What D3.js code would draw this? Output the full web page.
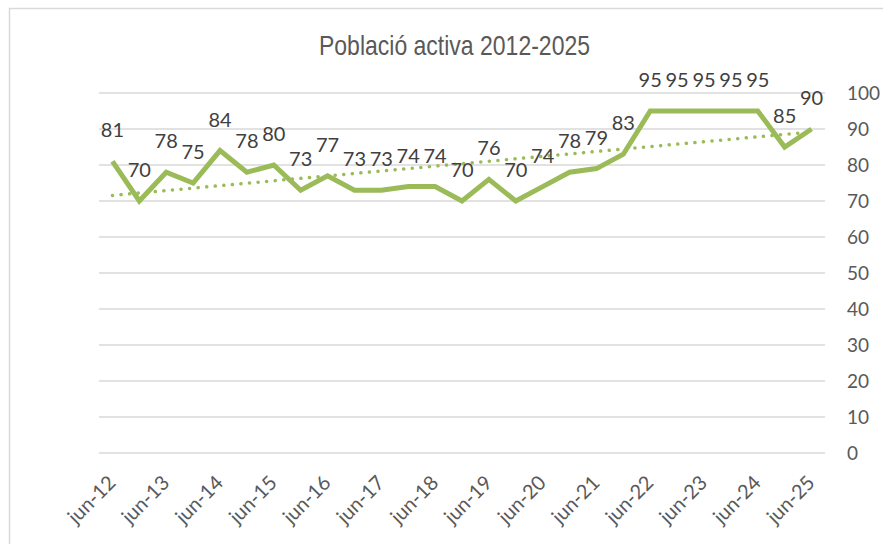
<!DOCTYPE html>
<html lang="ca">
<head>
<meta charset="utf-8">
<title>Població activa 2012-2025</title>
<script src="https://cdnjs.cloudflare.com/ajax/libs/d3/7.8.5/d3.min.js"></script>
<style>
  body { margin: 0; background: #fff; }
  svg { display: block; }
</style>
</head>
<body>
<div id="chart"></div>
<script>
// one point every half year, jun-12 .. jun-25
var periods = ["jun-12", "des-12", "jun-13", "des-13", "jun-14", "des-14", "jun-15", "des-15",
  "jun-16", "des-16", "jun-17", "des-17", "jun-18", "des-18", "jun-19", "des-19",
  "jun-20", "des-20", "jun-21", "des-21", "jun-22", "des-22", "jun-23", "des-23",
  "jun-24", "des-24", "jun-25"];
var values = [81, 70, 78, 75, 84, 78, 80, 73, 77, 73, 73, 74, 74, 70, 76, 70,
  74, 78, 79, 83, 95, 95, 95, 95, 95, 85, 90];
var yTicks = [0, 10, 20, 30, 40, 50, 60, 70, 80, 90, 100];

var W = 883, H = 544;
var green = "#9bbb59";
var font = "Lato, 'Open Sans', sans-serif";

var svg = d3.select("#chart").append("svg")
  .attr("width", W)
  .attr("height", H);

// chart frame (runs off the right and bottom of the picture)
svg.append("rect")
  .attr("x", 9.5).attr("y", 8.5)
  .attr("width", W + 20).attr("height", H + 20)
  .attr("fill", "#fff")
  .attr("stroke", "#d9d9d9")
  .attr("stroke-width", 1.5);

// no narrow font installed, so squeeze the title to its width
svg.append("text")
  .attr("x", 319)
  .attr("y", 55)
  .attr("textLength", 271)
  .attr("lengthAdjust", "spacingAndGlyphs")
  .attr("fill", "#595959")
  .style("font-family", "'Liberation Sans', Arial, sans-serif")
  .style("font-size", "28px")
  .text("Població activa 2012-2025");

var x = d3.scalePoint().domain(periods).range([99, 825]).padding(0.5);
var y = d3.scaleLinear().domain([0, 100]).range([453, 93]);

// gridlines
svg.append("g")
  .selectAll("line")
  .data(yTicks)
  .enter().append("line")
  .attr("x1", 99).attr("x2", 825)
  .attr("y1", function (d) { return y(d); })
  .attr("y2", function (d) { return y(d); })
  .attr("stroke", "#d9d9d9")
  .attr("stroke-width", 1.5);

// right axis labels
var yAxis = svg.append("g")
  .attr("transform", "translate(847,0)")
  .call(d3.axisRight(y).tickValues(yTicks).tickSize(0).tickPadding(0));
yAxis.select(".domain").remove();
yAxis.selectAll("text")
  .attr("fill", "#595959")
  .attr("dy", "0.36em")
  .style("font-family", font)
  .style("font-size", "19px");

// x axis labels, only the june ones
var xAxis = svg.append("g")
  .attr("transform", "translate(0,453)")
  .call(d3.axisBottom(x)
    .tickValues(periods.filter(function (d, i) { return i % 2 === 0; }))
    .tickSize(0));
xAxis.select(".domain").remove();
xAxis.selectAll("text")
  .attr("fill", "#595959")
  .attr("text-anchor", "end")
  .attr("x", 0).attr("y", 0).attr("dy", 0)
  .attr("transform", "translate(4,31) rotate(-45)")
  .style("font-family", font)
  .style("font-size", "20px");

// linear trend
var idx = values.map(function (d, i) { return i; });
var mx = d3.mean(idx), my = d3.mean(values);
var slope = d3.sum(idx, function (i) { return (i - mx) * (values[i] - my); }) /
  d3.sum(idx, function (i) { return (i - mx) * (i - mx); });
var icpt = my - slope * mx;
var first = 0, last = values.length - 1;

svg.append("line")
  .attr("x1", x(periods[first])).attr("y1", y(icpt + slope * first))
  .attr("x2", x(periods[last])).attr("y2", y(icpt + slope * last))
  .attr("stroke", green)
  .attr("stroke-width", 3.5)
  .attr("stroke-linecap", "round")
  .attr("stroke-dasharray", "0.1 8.5");

var line = d3.line()
  .x(function (d, i) { return x(periods[i]); })
  .y(function (d) { return y(d); });

svg.append("path")
  .datum(values)
  .attr("d", line)
  .attr("fill", "none")
  .attr("stroke", green)
  .attr("stroke-width", 5);

// data labels
svg.append("g")
  .selectAll("text")
  .data(values)
  .enter().append("text")
  .attr("x", function (d, i) { return x(periods[i]); })
  .attr("y", function (d) { return y(d) - 24; })
  .attr("text-anchor", "middle")
  .attr("fill", "#404040")
  .style("font-family", font)
  .style("font-size", "20px")
  .text(function (d) { return d; });
</script>
</body>
</html>
